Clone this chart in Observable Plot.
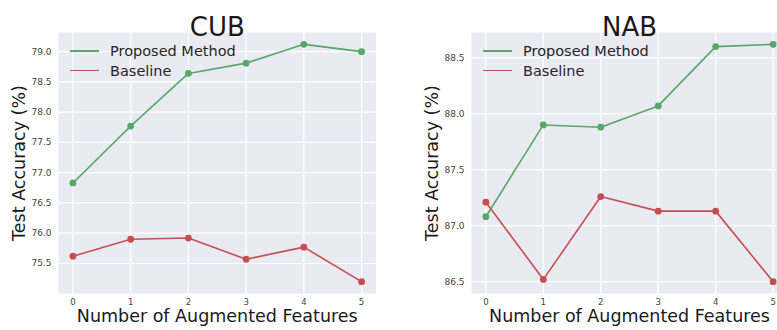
<!DOCTYPE html>
<html><head><meta charset="utf-8">
<script src="https://cdn.jsdelivr.net/npm/d3@7"></script>
<script src="https://cdn.jsdelivr.net/npm/@observablehq/plot@0.6"></script>
<style>
body{margin:0;background:#fff;font-family:"DejaVu Sans",sans-serif}
#fig{position:relative;width:777px;height:330px;overflow:hidden;background:#fff}
.panel{position:absolute;top:0}
.legend{position:absolute;font-family:"DejaVu Sans",sans-serif;font-size:14.5px;color:#262626}
.legend div{position:absolute;white-space:nowrap;line-height:20px}
.legend span{position:absolute;height:1.6px;width:29px}
</style></head><body><div id="fig"></div>
<script>
// Number of augmented features on the x axis
const steps = [0, 1, 2, 3, 4, 5];
// Test accuracy (%) per dataset
const cubProposed = [76.83, 77.77, 78.64, 78.81, 79.12, 79.00];
const cubBaseline = [75.62, 75.90, 75.92, 75.57, 75.77, 75.20];
const nabProposed = [87.08, 87.90, 87.88, 88.07, 88.60, 88.62];
const nabBaseline = [87.21, 86.52, 87.26, 87.13, 87.13, 86.50];
const cubTicks = [75.5, 76.0, 76.5, 77.0, 77.5, 78.0, 78.5, 79.0];
const nabTicks = [86.5, 87.0, 87.5, 88.0, 88.5];
const seriesNames = ["Proposed Method", "Baseline"];
const seriesColors = ["#55a868", "#c44e52"];

const fig = document.getElementById("fig");

function rowsOf(proposed, baseline) {
  return [
    ...steps.map((s, i) => ({step: s, acc: proposed[i], series: seriesNames[0]})),
    ...steps.map((s, i) => ({step: s, acc: baseline[i], series: seriesNames[1]}))
  ];
}

function panel({title, proposed, baseline, ticks, left, width, marginLeft, marginRight}) {
  const rows = rowsOf(proposed, baseline);
  const [lo, hi] = d3.extent(rows, d => d.acc);
  const pad = (hi - lo) * 0.05;
  const chart = Plot.plot({
    width, height: 330,
    marginLeft, marginRight, marginTop: 32, marginBottom: 37,
    style: {background: "transparent", fontFamily: "DejaVu Sans, sans-serif", overflow: "visible"},
    x: {domain: [-0.25, 5.25], ticks: steps, tickFormat: d3.format("d")},
    y: {domain: [lo - pad, hi + pad], ticks, tickFormat: d3.format(".1f")},
    color: {domain: seriesNames, range: seriesColors},
    marks: [
      Plot.frame({fill: "#eaeaf2", stroke: null}),
      Plot.gridX(steps, {stroke: "#fff", strokeOpacity: 1, strokeWidth: 1.2}),
      Plot.gridY(ticks, {stroke: "#fff", strokeOpacity: 1, strokeWidth: 1.2}),
      Plot.axisX(steps, {tickSize: 0, tickPadding: 5, fontSize: 8.5, fill: "#444", label: null, tickFormat: d3.format("d")}),
      Plot.axisY(ticks, {tickSize: 0, tickPadding: 7, fontSize: 9, fill: "#444", label: null, tickFormat: d3.format(".1f")}),
      Plot.line(rows, {x: "step", y: "acc", z: "series", stroke: "series", strokeWidth: 1.6}),
      Plot.dot(rows, {x: "step", y: "acc", fill: "series", r: 3.4}),
      Plot.text([title], {frameAnchor: "top", dy: -15, fontSize: 26, fill: "#1a1a1a", text: d => d}),
      Plot.text(["Test Accuracy (%)"], {frameAnchor: "left", textAnchor: "middle", dx: -39, rotate: -90, fontSize: 17.5, fill: "#1a1a1a", text: d => d}),
      Plot.text(["Number of Augmented Features"], {frameAnchor: "bottom", dy: 28, fontSize: 17.5, fill: "#1a1a1a", text: d => d})
    ]
  });
  chart.classList.add("panel");
  chart.style.left = left + "px";
  fig.appendChild(chart);

  // legend in the upper-left corner of the panel
  const legend = document.createElement("div");
  legend.className = "legend";
  legend.style.left = (left + marginLeft + 12) + "px";
  legend.style.top = "0px";
  seriesNames.forEach((name, i) => {
    const y = 51 + i * 19.5;
    const line = document.createElement("span");
    line.style.left = "0px";
    line.style.top = (y - 0.8) + "px";
    line.style.background = seriesColors[i];
    legend.appendChild(line);
    const label = document.createElement("div");
    label.textContent = name;
    label.style.left = "40px";
    label.style.top = (y - 10) + "px";
    legend.appendChild(label);
  });
  fig.appendChild(legend);
}

panel({title: "CUB", proposed: cubProposed, baseline: cubBaseline, ticks: cubTicks,
       left: 0, width: 390, marginLeft: 58, marginRight: 14.5});
panel({title: "NAB", proposed: nabProposed, baseline: nabBaseline, ticks: nabTicks,
       left: 390, width: 397, marginLeft: 81, marginRight: 0});
</script>
</body></html>
